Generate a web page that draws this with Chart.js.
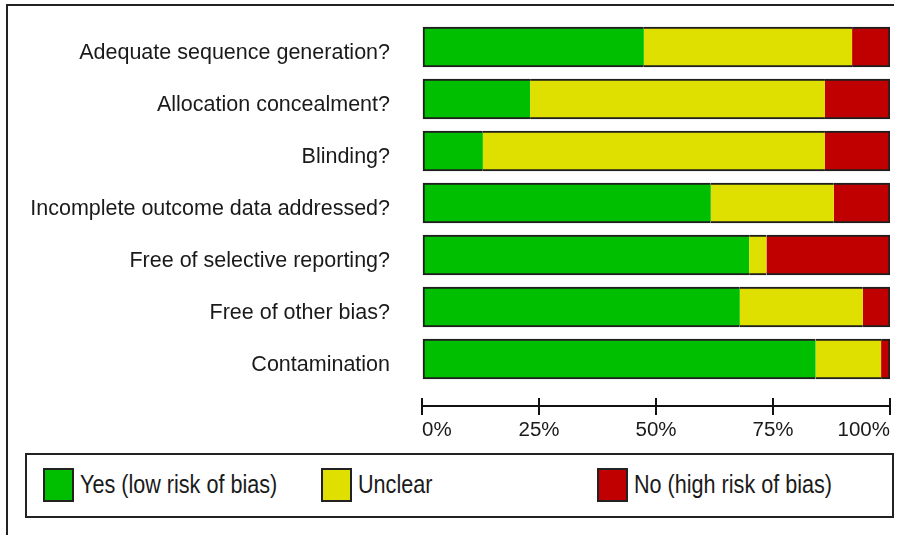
<!DOCTYPE html>
<html>
<head>
<meta charset="utf-8">
<script src="https://cdn.jsdelivr.net/npm/chart.js@4/dist/chart.umd.min.js"></script>
<style>
  html, body { margin: 0; padding: 0; background: #ffffff; }
  #wrap { position: relative; width: 897px; height: 535px; overflow: hidden; background: #fff; }
  #frame { position: absolute; left: 6px; top: 4px; width: 888px; height: 540px;
           border-top: 2px solid #222; border-left: 2px solid #222; box-sizing: border-box; }
  #chart { position: absolute; left: 0; top: 0; }
  #legend { position: absolute; left: 25px; top: 453px; width: 869px; height: 65px;
            border: 2px solid #222; box-sizing: border-box; background: #fff; }
  .item { position: absolute; top: 13px; height: 34px; display: flex; align-items: center;
          font-family: 'Liberation Sans', Arial, sans-serif;
          font-size: 21.6px; color: #1a1a1a; white-space: nowrap; }
  .item span { display: inline-block; transform: scaleY(1.2); }
  .sw { width: 31px; height: 34px; border: 2px solid #222; box-sizing: border-box; margin-right: 6px; }
</style>
</head>
<body>
<div id="wrap">
  <div id="frame"></div>
  <canvas id="chart" width="897" height="535"></canvas>
  <div id="legend"></div>
</div>
<script>
// ---- data ----
const categories = [
  'Adequate sequence generation?',
  'Allocation concealment?',
  'Blinding?',
  'Incomplete outcome data addressed?',
  'Free of selective reporting?',
  'Free of other bias?',
  'Contamination'
];
const yesLow   = [47.4, 23.1, 13.0, 61.7, 69.9, 67.9, 84.1];
const unclear  = [44.5, 63.0, 73.1, 26.3,  3.7, 26.3, 14.0];
const noHigh   = [ 8.1, 13.9, 13.9, 12.0, 26.4,  5.8,  1.9];
const seriesNames = ['Yes (low risk of bias)', 'Unclear', 'No (high risk of bias)'];
const tickValues = [0, 25, 50, 75, 100];
const tickLabels = ['0%', '25%', '50%', '75%', '100%'];

// ---- styles ----
const FONT = "'Liberation Sans', Arial, sans-serif";
const colors = ['#00bf00', '#e0e000', '#c00000'];
const edge = '#1e1e1e';
const bw = 2;
const borders = [
  {top: bw, bottom: bw, left: bw, right: 0},
  {top: bw, bottom: bw, left: 0, right: 0},
  {top: bw, bottom: bw, left: 0, right: bw}
];
const seriesData = [yesLow, unclear, noHigh];

const datasets = seriesData.map((d, i) => ({
  label: seriesNames[i],
  data: d,
  backgroundColor: colors[i],
  borderColor: edge,
  borderWidth: borders[i],
  borderSkipped: false,
  barThickness: 40
}));

new Chart(document.getElementById('chart'), {
  type: 'bar',
  data: { labels: categories, datasets },
  options: {
    indexAxis: 'y',
    responsive: false,
    animation: false,
    events: [],
    layout: { padding: { top: 21, right: 7, bottom: 150, left: 0 } },
    plugins: { legend: { display: false }, tooltip: { enabled: false } },
    scales: {
      y: {
        type: 'category',
        stacked: true,
        offset: true,
        grid: { display: false, drawTicks: true, tickLength: 32 },
        border: { display: false },
        ticks: {
          autoSkip: false,
          padding: 0,
          labelOffset: 6,
          color: '#1a1a1a',
          font: { family: FONT, size: 21.5 }
        },
        afterFit(scale) { scale.width = 422; }
      },
      x: {
        type: 'linear',
        axis: 'x',
        stacked: true,
        min: 0,
        max: 100,
        position: { y: 6.75 },
        afterBuildTicks(scale) { scale.ticks = tickValues.map(v => ({ value: v })); },
        grid: { display: true, drawOnChartArea: false, drawTicks: true, tickLength: 17, tickWidth: 2, tickColor: '#111', lineWidth: 2 },
        border: { display: false },
        ticks: {
          align: 'inner',
          padding: 3,
          color: '#1a1a1a',
          font: { family: FONT, size: 20.5 },
          callback: (v) => tickLabels[tickValues.indexOf(v)]
        }
      },
      x2: {
        type: 'linear',
        axis: 'x',
        min: 0,
        max: 100,
        position: { y: 6.913 },
        afterBuildTicks(scale) { scale.ticks = tickValues.map(v => ({ value: v })); },
        grid: { display: true, drawOnChartArea: false, drawTicks: false },
        border: { display: true, width: 2, color: '#111' },
        ticks: { display: false }
      }
    }
  }
});

// ---- legend (built from the datasets) ----
const legendLefts = [16, 294, 570];
const legend = document.getElementById('legend');
datasets.forEach((ds, i) => {
  const it = document.createElement('div');
  it.className = 'item';
  it.style.left = legendLefts[i] + 'px';
  const sw = document.createElement('div');
  sw.className = 'sw';
  sw.style.background = ds.backgroundColor;
  const tx = document.createElement('span');
  tx.textContent = ds.label;
  it.appendChild(sw);
  it.appendChild(tx);
  legend.appendChild(it);
});
</script>
</body>
</html>
